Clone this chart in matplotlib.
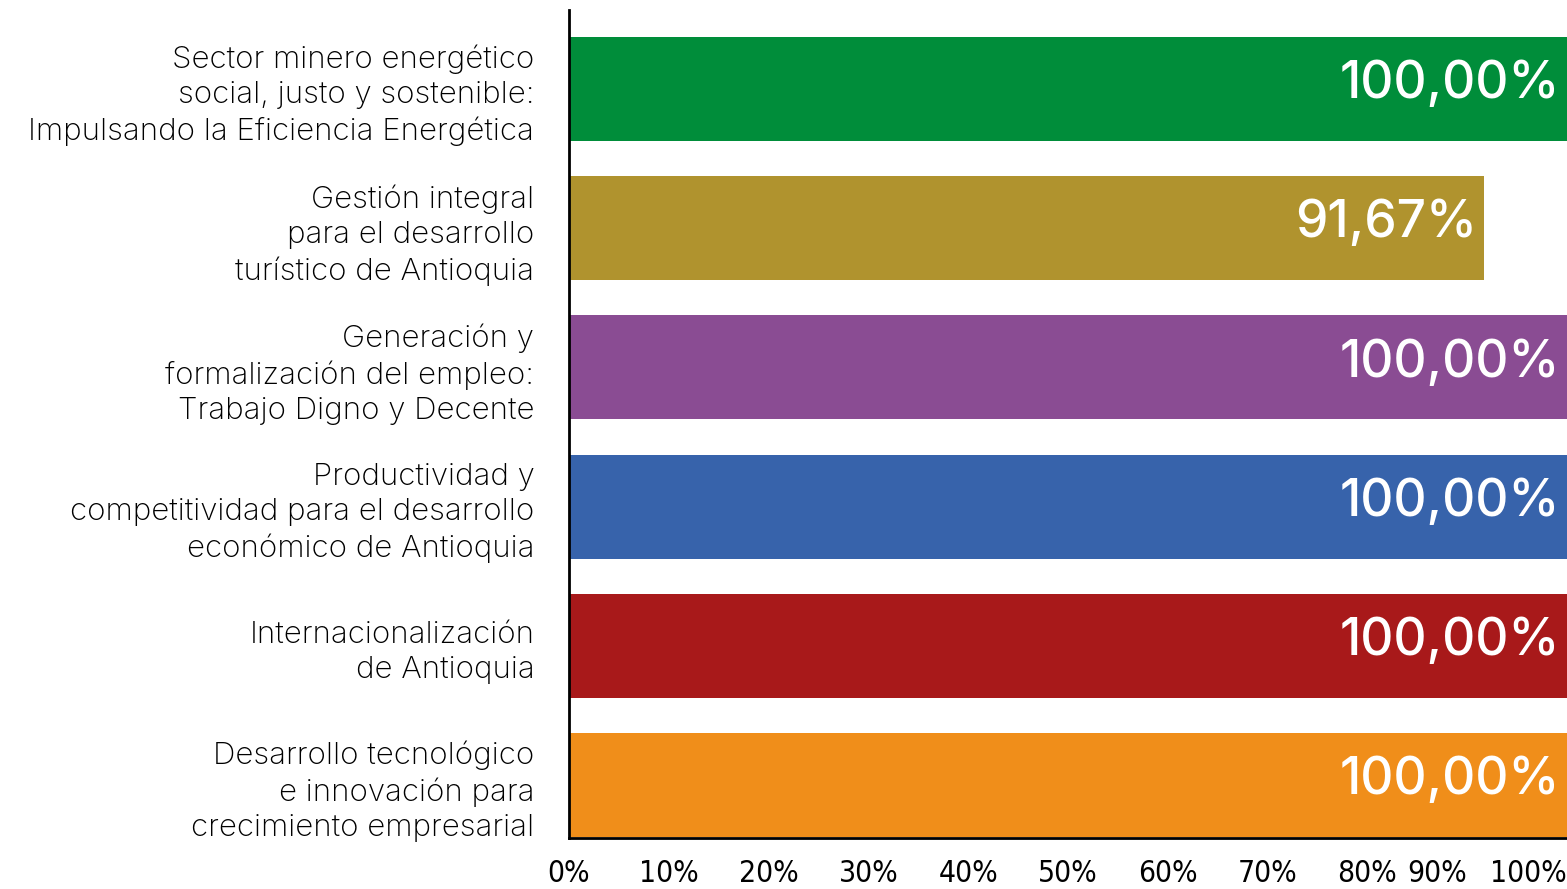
import matplotlib
matplotlib.use("Agg")
import matplotlib.pyplot as plt
from matplotlib.ticker import FixedLocator, FixedFormatter

categories = [
    "Sector minero energético\nsocial, justo y sostenible:\nImpulsando la Eficiencia Energética",
    "Gestión integral\npara el desarrollo\nturístico de Antioquia",
    "Generación y\nformalización del empleo:\nTrabajo Digno y Decente",
    "Productividad y\ncompetitividad para el desarrollo\neconómico de Antioquia",
    "Internacionalización\nde Antioquia",
    "Desarrollo tecnológico\ne innovación para\ncrecimiento empresarial",
]
values = [100.00, 91.67, 100.00, 100.00, 100.00, 100.00]
value_labels = ["100,00%", "91,67%", "100,00%", "100,00%", "100,00%", "100,00%"]
colors = ["#008D3A", "#B0932E", "#8A4C93", "#3763AB", "#A8191A", "#F08E1A"]
x_ticks = [0, 10, 20, 30, 40, 50, 60, 70, 80, 90, 100]
x_tick_labels = ["0%", "10%", "20%", "30%", "40%", "50%", "60%", "70%", "80%", "90%", "100%"]

fig = plt.figure(figsize=(15.67, 8.89), dpi=100)
ax = fig.add_axes([569 / 1567, 51 / 889, 1 - 569 / 1567, 828 / 889])

pos = list(range(len(categories)))
ax.barh(pos, values, height=0.747, color=colors)

for p, v, lab in zip(pos, values, value_labels):
    ax.text(v - 0.7, p - 0.03, lab, ha="right", va="center", color="white",
            fontsize=37, fontweight="medium", family="Inter")

ax.set_xlim(0, 100)
ax.set_ylim(5.38, -0.567)
ax.set_yticks(pos)
ax.set_yticklabels(categories, fontsize=22.5, family="Inter", fontweight="light",
                   ha="right", multialignment="right", linespacing=1.32)
ax.xaxis.set_major_locator(FixedLocator(x_ticks))
ax.xaxis.set_major_formatter(FixedFormatter(x_tick_labels))
ax.tick_params(axis="y", length=0, pad=25)
ax.tick_params(axis="x", length=0, pad=15, labelsize=21.5)
xt = ax.get_xticklabels()
for t in xt:
    t.set_family("DejaVu Sans")
    t.set_fontstretch("condensed")
xt[-2].set_ha("right")
xt[-1].set_ha("right")

for s in ["top", "right"]:
    ax.spines[s].set_visible(False)
for s in ["left", "bottom"]:
    ax.spines[s].set_linewidth(2)
    ax.spines[s].set_color("black")

fig.savefig("out.png", dpi=100)
